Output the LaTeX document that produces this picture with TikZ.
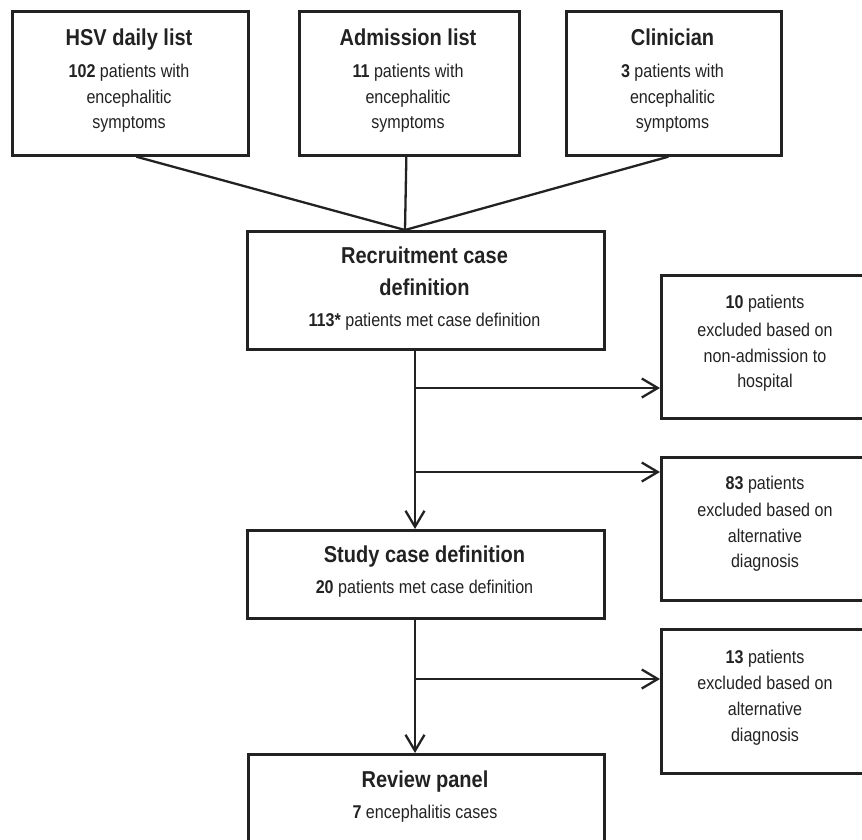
\documentclass[tikz,border=0pt]{standalone}
\usepackage{fontspec}
\setmainfont[FakeStretch=0.87]{Liberation Sans}
\usetikzlibrary{arrows.meta}
\definecolor{ink}{HTML}{222222}
\begin{document}
\begin{tikzpicture}[x=1pt,y=-1pt,
  box/.style={draw=ink, line width=2.7pt, rectangle, inner sep=0pt, anchor=north west},
  ttl/.style={anchor=base, inner sep=0pt, text=ink, font=\fontsize{23}{26}\selectfont\bfseries},
  bdy/.style={anchor=base, inner sep=0pt, text=ink, font=\fontsize{18.5}{22}\selectfont},
  con/.style={draw=ink, line width=2.3pt},
  arr/.style={con, -{Straight Barb[length=16pt,width=19pt]}}]
\useasboundingbox (0,0) rectangle (862,839);
\clip (0,0) rectangle (862,839);

% boxes
\node[box, minimum width=236pt, minimum height=144pt] (hsv) at (11,10) {};
\node[box, minimum width=220pt, minimum height=144pt] (adm) at (298,10) {};
\node[box, minimum width=215pt, minimum height=144pt] (cli) at (565,10) {};
\node[box, minimum width=357pt, minimum height=118pt] (rec) at (246,230) {};
\node[box, minimum width=210pt, minimum height=143pt] (x10) at (660,274) {};
\node[box, minimum width=210pt, minimum height=143pt] (x83) at (660,456) {};
\node[box, minimum width=357pt, minimum height=88pt] (stu) at (246,529) {};
\node[box, minimum width=210pt, minimum height=144pt] (x13) at (660,628) {};
\node[box, minimum width=356pt, minimum height=100pt] (rev) at (247,753) {};

% texts
\node[ttl] (hsv1) at (129,45) {HSV daily list};
\node[bdy] (hsv2) at (129,77) {{\bfseries 102} patients with};
\node[bdy] (hsv3) at (129,103) {encephalitic};
\node[bdy] (hsv4) at (129,128) {symptoms};

\node[ttl] (adm1) at (408,45) {Admission list};
\node[bdy] (adm2) at (408,77) {{\bfseries 11} patients with};
\node[bdy] (adm3) at (408,103) {encephalitic};
\node[bdy] (adm4) at (408,128) {symptoms};

\node[ttl] (cli1) at (672.5,45) {Clinician};
\node[bdy] (cli2) at (672.5,77) {{\bfseries 3} patients with};
\node[bdy] (cli3) at (672.5,103) {encephalitic};
\node[bdy] (cli4) at (672.5,128) {symptoms};

\node[ttl] (rec1) at (424.5,263) {Recruitment case};
\node[ttl] (rec2) at (424.5,295) {definition};
\node[bdy] (rec3) at (424.5,326) {{\bfseries 113*} patients met case definition};

\node[bdy] (x10a) at (765,308) {{\bfseries 10} patients};
\node[bdy] (x10b) at (765,336) {excluded based on};
\node[bdy] (x10c) at (765,362) {non-admission to};
\node[bdy] (x10d) at (765,387) {hospital};

\node[bdy] (x83a) at (765,489) {{\bfseries 83} patients};
\node[bdy] (x83b) at (765,516) {excluded based on};
\node[bdy] (x83c) at (765,542) {alternative};
\node[bdy] (x83d) at (765,567) {diagnosis};

\node[ttl] (stu1) at (424.5,562) {Study case definition};
\node[bdy] (stu2) at (424.5,593) {{\bfseries 20} patients met case definition};

\node[bdy] (x13a) at (765,663) {{\bfseries 13} patients};
\node[bdy] (x13b) at (765,689) {excluded based on};
\node[bdy] (x13c) at (765,715) {alternative};
\node[bdy] (x13d) at (765,741) {diagnosis};

\node[ttl] (rev1) at (425,787) {Review panel};
\node[bdy] (rev2) at (425,818) {{\bfseries 7} encephalitis cases};

% connectors
\coordinate (m) at (405,230);
\draw[con] ([xshift=6pt]hsv.south) -- (m);
\draw[con] ([xshift=-3pt]adm.south) -- (m);
\draw[con] ([xshift=-5.5pt]cli.south) -- (m);

\coordinate (t1) at (415,388);
\coordinate (t2) at (415,472);
\coordinate (t3) at (415,679);
\draw[arr] (rec.south -| t1) -- (stu.north -| t1);
\draw[arr] (t1) -- (t1 -| x10.west);
\draw[arr] (t2) -- (t2 -| x83.west);
\draw[arr] (stu.south -| t3) -- (rev.north -| t3);
\draw[arr] (t3) -- (t3 -| x13.west);
\end{tikzpicture}
\end{document}
